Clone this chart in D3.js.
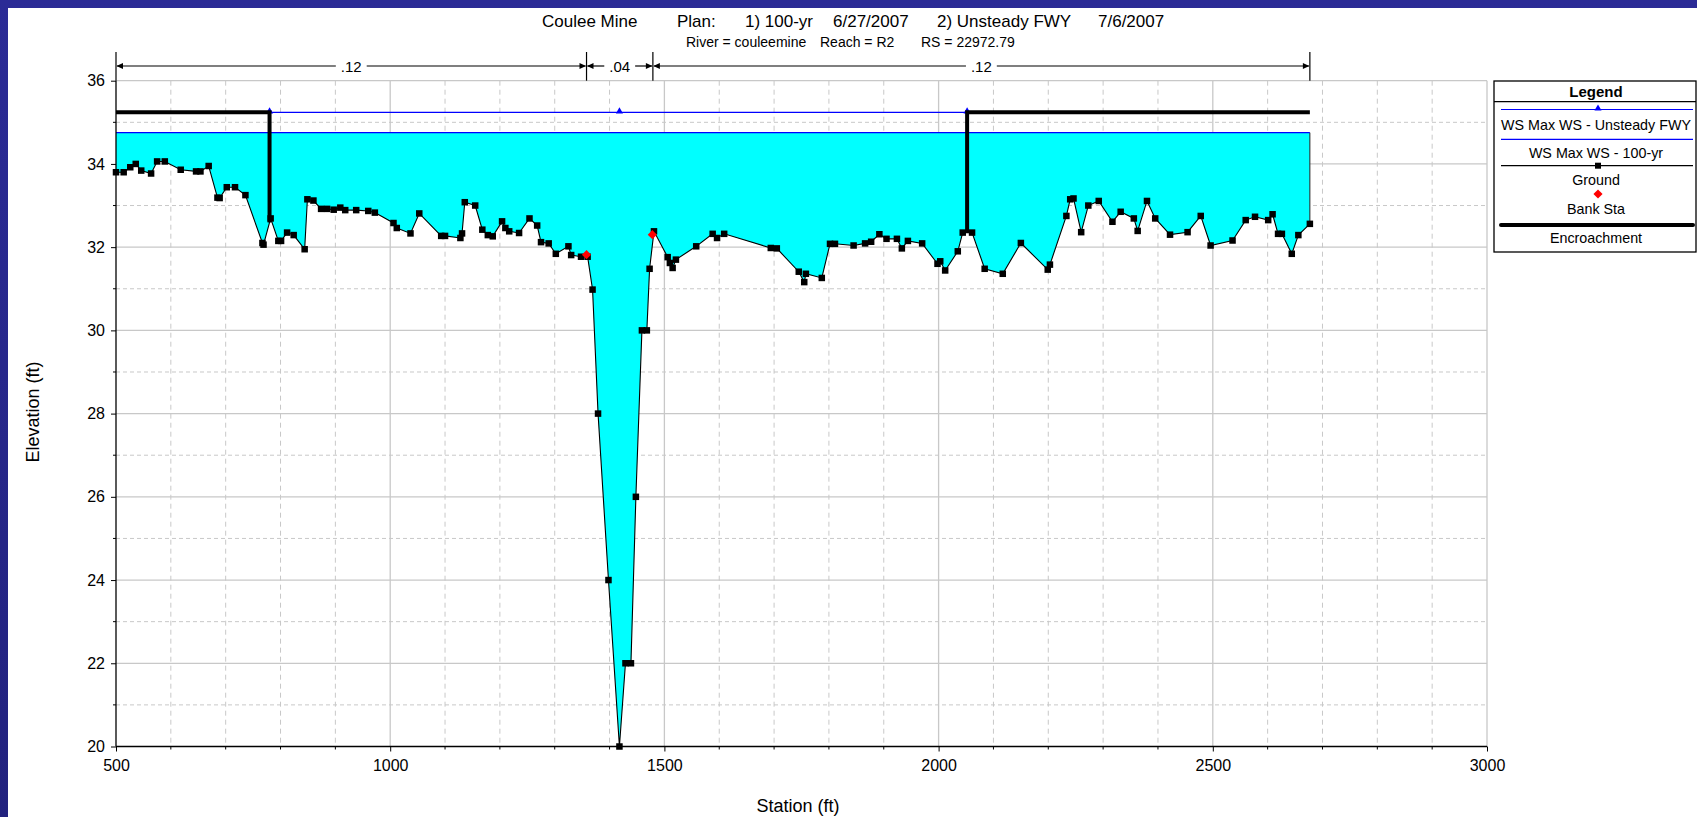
<!DOCTYPE html>
<html>
<head>
<meta charset="utf-8">
<script src="https://cdn.jsdelivr.net/npm/d3@7"></script>
<style>
html,body{margin:0;padding:0;background:#fff;}
svg{display:block;}
text{font-family:"Liberation Sans",Arial,sans-serif;}
</style>
</head>
<body>
<svg id="chart" width="1697" height="817"></svg>
<script>
// ---------- DATA ----------
const groundSta = [500,514,526,536,546,564,575,589,618,646,654,669,685,689,702,717,736,767,769,782,796,801,812,824,844,849,860,874,885,897,909,918,938,960,972,1006,1012,1037,1053,1093,1100,1128,1131,1136,1155,1168,1178,1187,1204,1210,1217,1235,1254,1268,1275,1289,1302,1325,1330,1348,1360,1369,1379,1398,1418,1429,1439,1448,1459,1468,1473,1481,1506,1510,1515,1521,1558,1588,1596,1609,1694,1705,1745,1755,1758,1787,1802,1811,1845,1866,1877,1892,1905,1924,1933,1944,1970,1998,2003,2012,2035,2044,2061,2084,2117,2150,2199,2203,2233,2240,2246,2260,2273,2292,2317,2332,2356,2363,2380,2395,2422,2454,2478,2496,2536,2560,2577,2601,2609,2619,2626,2644,2656,2677];
const groundElev = [33.80,33.80,33.92,34.00,33.84,33.77,34.06,34.06,33.86,33.82,33.82,33.95,33.19,33.18,33.44,33.44,33.25,32.10,32.06,32.69,32.15,32.15,32.35,32.29,31.95,33.15,33.12,32.92,32.92,32.90,32.95,32.89,32.89,32.87,32.83,32.58,32.46,32.33,32.81,32.27,32.27,32.22,32.33,33.08,33.00,32.42,32.29,32.26,32.62,32.46,32.38,32.34,32.69,32.52,32.12,32.09,31.84,32.02,31.81,31.77,31.77,30.98,28.00,24.00,20.00,22.00,22.00,26.00,30.00,30.00,31.48,32.38,31.76,31.62,31.50,31.70,32.02,32.32,32.22,32.32,31.98,31.97,31.41,31.16,31.36,31.26,32.08,32.08,32.04,32.09,32.13,32.31,32.20,32.20,31.97,32.15,32.09,31.60,31.66,31.44,31.90,32.35,32.35,31.48,31.36,32.10,31.46,31.58,32.75,33.15,33.17,32.36,33.00,33.11,32.61,32.85,32.69,32.39,33.11,32.69,32.30,32.36,32.75,32.04,32.16,32.65,32.73,32.65,32.79,32.32,32.32,31.84,32.29,32.56];

const ws100yrElev = 34.75;                 // WS Max WS - 100-yr
const wsUnsteadyElev = 35.24;              // WS Max WS - Unsteady FWY
const wsUnsteadyMarkSta = [780, 1418, 2052];
const encroachSta = [780, 2052];           // left / right encroachment stations
const encroachElev = 35.24;
const bankSta = [1358, 1478];
const bankElev = [31.82, 32.30];
const nBreakSta = [500, 1358, 1479, 2677];
const nValues = [".12", ".04", ".12"];

const xTicks = [500, 1000, 1500, 2000, 2500, 3000];
const yTicks = [20, 22, 24, 26, 28, 30, 32, 34, 36];

const titleParts = ["Coulee Mine", "Plan:", "1) 100-yr", "6/27/2007", "2) Unsteady FWY", "7/6/2007"];
const subtitleParts = ["River = couleemine", "Reach = R2", "RS = 22972.79"];
const legendItems = ["WS Max WS - Unsteady FWY", "WS Max WS - 100-yr", "Ground", "Bank Sta", "Encroachment"];

// ---------- LAYOUT ----------
const svg = d3.select("#chart");
const W = 1697, H = 817;
const x = d3.scaleLinear().domain([500, 3000]).range([116, 1487]);
const y = d3.scaleLinear().domain([20, 36]).range([746.5, 80.7]);
const ground = groundSta.map((s, i) => ({sta: s, elev: groundElev[i]}));
const groundAt = s => {
  for (let i = 1; i < ground.length; i++) {
    if (s <= ground[i].sta) {
      const a = ground[i-1], b = ground[i];
      return a.elev + (b.elev - a.elev) * (s - a.sta) / (b.sta - a.sta);
    }
  }
  return ground[ground.length-1].elev;
};

// background (slide frame)
const defs = svg.append("defs");
const grad = defs.append("linearGradient").attr("id","bg").attr("x1",0).attr("y1",0).attr("x2",0).attr("y2",1);
grad.append("stop").attr("offset","0%").attr("stop-color","#2b2b96");
grad.append("stop").attr("offset","100%").attr("stop-color","#22227e");
svg.append("rect").attr("width",W).attr("height",H).attr("fill","url(#bg)");
svg.append("rect").attr("x",8).attr("y",8).attr("width",W-8).attr("height",H-8).attr("fill","#fff");

const gridColor = "#c8c8c8";
const [x0, x1] = x.range();
const [yb, yt] = y.range();

// minor grid
const xMinor = d3.range(600, 3000, 100).filter(v => v % 500 !== 0);
svg.append("g").selectAll("line").data(xMinor).join("line")
  .attr("x1", d => x(d)).attr("x2", d => x(d)).attr("y1", yt).attr("y2", yb)
  .attr("stroke", gridColor).attr("stroke-width", 1).attr("stroke-dasharray", "5,4");
const yMinor = d3.range(21, 36, 2);
svg.append("g").selectAll("line").data(yMinor).join("line")
  .attr("x1", x0).attr("x2", x1).attr("y1", d => y(d)).attr("y2", d => y(d))
  .attr("stroke", gridColor).attr("stroke-width", 1).attr("stroke-dasharray", "4,3");
// major grid
svg.append("g").selectAll("line").data(xTicks.slice(1)).join("line")
  .attr("x1", d => x(d)).attr("x2", d => x(d)).attr("y1", yt).attr("y2", yb)
  .attr("stroke", gridColor).attr("stroke-width", 1.3);
svg.append("g").selectAll("line").data(yTicks.slice(1)).join("line")
  .attr("x1", x0).attr("x2", x1).attr("y1", d => y(d)).attr("y2", d => y(d))
  .attr("stroke", gridColor).attr("stroke-width", 1.3);

// water fill (100-yr)
const area = d3.area().x(d => x(d.sta)).y0(y(ws100yrElev)).y1(d => y(d.elev));
svg.append("path").datum(ground).attr("d", area).attr("fill", "#00ffff");
// right edge of fill
const last = ground[ground.length-1];
svg.append("line").attr("x1", x(last.sta)).attr("x2", x(last.sta))
  .attr("y1", y(ws100yrElev)).attr("y2", y(last.elev)).attr("stroke", "#222").attr("stroke-width", 1);
// WS 100-yr line
svg.append("line").attr("x1", x(ground[0].sta)).attr("x2", x(last.sta))
  .attr("y1", y(ws100yrElev)).attr("y2", y(ws100yrElev)).attr("stroke", "#0000ff").attr("stroke-width", 1.2);
// WS Unsteady FWY line
svg.append("line").attr("x1", x(encroachSta[0])).attr("x2", x(encroachSta[1]))
  .attr("y1", y(wsUnsteadyElev)).attr("y2", y(wsUnsteadyElev)).attr("stroke", "#0000ff").attr("stroke-width", 1.2);
const tri = d3.symbol().type(d3.symbolTriangle).size(22);
svg.append("g").selectAll("path").data(wsUnsteadyMarkSta).join("path")
  .attr("d", tri).attr("transform", d => `translate(${x(d)},${y(wsUnsteadyElev)-1})`).attr("fill", "#0000ff");

// ground line
const line = d3.line().x(d => x(d.sta)).y(d => y(d.elev));
svg.append("path").datum(ground).attr("d", line).attr("fill", "none").attr("stroke", "#000").attr("stroke-width", 1.1);
svg.append("g").selectAll("rect").data(ground).join("rect")
  .attr("x", d => x(d.sta) - 3.25).attr("y", d => y(d.elev) - 3.25).attr("width", 6.5).attr("height", 6.5).attr("fill", "#000");

// bank stations (square rotated 45 deg)
const diamond = d3.symbol().type(d3.symbolSquare).size(42);
svg.append("g").selectAll("path").data(bankSta).join("path")
  .attr("d", diamond).attr("transform", (d, i) => `translate(${x(d)},${y(bankElev[i])}) rotate(45)`).attr("fill", "#ff0000");

// encroachments
const encL = [[ground[0].sta, encroachElev], [encroachSta[0], encroachElev], [encroachSta[0], groundAt(encroachSta[0])]];
const encR = [[encroachSta[1], groundAt(encroachSta[1])], [encroachSta[1], encroachElev], [last.sta, encroachElev]];
const eline = d3.line().x(d => x(d[0])).y(d => y(d[1]));
[encL, encR].forEach(p => svg.append("path").attr("d", eline(p)).attr("fill", "none")
  .attr("stroke", "#000").attr("stroke-width", 4).attr("stroke-linejoin", "miter"));

// axes
const yAxis = d3.axisLeft(y).tickValues(yTicks).tickSize(5).tickPadding(6).tickFormat(d3.format("d"));
const gy = svg.append("g").attr("transform", `translate(${x0},0)`).call(yAxis);
gy.select(".domain").attr("stroke", "#000").attr("stroke-width", 1.3).attr("d", `M0,${yt}V${yb}`);
gy.selectAll("text").attr("font-size", 16).attr("font-family", "Liberation Sans, Arial, sans-serif").attr("fill", "#000");
svg.append("g").selectAll("line").data(yMinor).join("line")
  .attr("x1", x0 - 3).attr("x2", x0).attr("y1", d => y(d)).attr("y2", d => y(d)).attr("stroke", "#000");

const xAxis = d3.axisBottom(x).tickValues(xTicks).tickSize(5).tickPadding(8).tickFormat(d3.format("d"));
const gx = svg.append("g").attr("transform", `translate(0,${yb})`).call(xAxis);
gx.select(".domain").attr("stroke", "#000").attr("stroke-width", 1.3).attr("d", `M${x0},0H${x1}`);
gx.selectAll("text").attr("font-size", 16).attr("font-family", "Liberation Sans, Arial, sans-serif").attr("fill", "#000");
svg.append("g").selectAll("line").data(xMinor).join("line")
  .attr("x1", d => x(d)).attr("x2", d => x(d)).attr("y1", yb).attr("y2", yb + 3).attr("stroke", "#000");

// axis titles
svg.append("text").attr("x", 798).attr("y", 806).attr("text-anchor", "middle").attr("dominant-baseline", "central")
  .attr("font-size", 18).text("Station (ft)");
svg.append("text").attr("transform", "translate(33,412) rotate(-90)").attr("text-anchor", "middle")
  .attr("dominant-baseline", "central").attr("font-size", 18).text("Elevation (ft)");

// titles
const titleX = [542, 677, 745, 833, 937, 1098];
svg.append("g").selectAll("text").data(titleParts).join("text")
  .attr("x", (d, i) => titleX[i]).attr("y", 21).attr("dominant-baseline", "central")
  .attr("font-size", 17).text(d => d);
const subX = [686, 820, 921];
svg.append("g").selectAll("text").data(subtitleParts).join("text")
  .attr("x", (d, i) => subX[i]).attr("y", 42).attr("dominant-baseline", "central")
  .attr("font-size", 14).text(d => d);

// Manning's n dimension lines
const dimY = 66;
const dim = svg.append("g");
nBreakSta.forEach(s => dim.append("line").attr("x1", x(s)).attr("x2", x(s)).attr("y1", 52).attr("y2", yt).attr("stroke", "#000").attr("stroke-width", 1.2));
nValues.forEach((v, i) => {
  const a = x(nBreakSta[i]), b = x(nBreakSta[i+1]), m = (a + b) / 2;
  const t = dim.append("text").attr("x", m).attr("y", dimY).attr("text-anchor", "middle")
    .attr("dominant-baseline", "central").attr("font-size", 15).text(v);
  const half = t.node().getComputedTextLength() / 2 + 5;
  dim.append("line").attr("x1", a + 1).attr("x2", m - half).attr("y1", dimY).attr("y2", dimY).attr("stroke", "#000").attr("stroke-width", 1.2);
  dim.append("line").attr("x1", m + half).attr("x2", b - 1).attr("y1", dimY).attr("y2", dimY).attr("stroke", "#000").attr("stroke-width", 1.2);
  dim.append("path").attr("d", `M${a+0.5},${dimY}L${a+7},${dimY-3}L${a+7},${dimY+3}Z`).attr("fill", "#000");
  dim.append("path").attr("d", `M${b-0.5},${dimY}L${b-7},${dimY-3}L${b-7},${dimY+3}Z`).attr("fill", "#000");
});

// legend
const lg = svg.append("g");
const L = {x: 1494, y: 81, w: 202, h: 171};
lg.append("rect").attr("x", L.x).attr("y", L.y).attr("width", L.w).attr("height", L.h)
  .attr("fill", "#fff").attr("stroke", "#000").attr("stroke-width", 1.3);
lg.append("text").attr("x", 1596).attr("y", 91).attr("text-anchor", "middle").attr("dominant-baseline", "central")
  .attr("font-size", 15).attr("font-weight", "bold").text("Legend");
lg.append("line").attr("x1", L.x).attr("x2", L.x + L.w).attr("y1", 101.7).attr("y2", 101.7).attr("stroke", "#000").attr("stroke-width", 1.3);
const lx1 = 1501, lx2 = 1693, lcx = 1598;
const textY = [125, 152.7, 180, 209.3, 237.7];
lg.selectAll("text.item").data(legendItems).join("text").attr("class", "item")
  .attr("x", 1596).attr("y", (d, i) => textY[i]).attr("text-anchor", "middle").attr("dominant-baseline", "central")
  .attr("font-size", 14.3).text(d => d);
lg.append("line").attr("x1", lx1).attr("x2", lx2).attr("y1", 109.5).attr("y2", 109.5).attr("stroke", "#0000ff").attr("stroke-width", 1.2);
lg.append("path").attr("d", tri).attr("transform", `translate(${lcx},108.5)`).attr("fill", "#0000ff");
lg.append("line").attr("x1", lx1).attr("x2", lx2).attr("y1", 139.3).attr("y2", 139.3).attr("stroke", "#0000ff").attr("stroke-width", 1.2);
lg.append("line").attr("x1", lx1).attr("x2", lx2).attr("y1", 165.7).attr("y2", 165.7).attr("stroke", "#000").attr("stroke-width", 1.2);
lg.append("rect").attr("x", lcx - 3).attr("y", 162.7).attr("width", 6).attr("height", 6).attr("fill", "#000");
lg.append("path").attr("d", diamond).attr("transform", `translate(${lcx},194) rotate(45)`).attr("fill", "#ff0000");
lg.append("line").attr("x1", lx1).attr("x2", lx2).attr("y1", 225).attr("y2", 225).attr("stroke", "#000").attr("stroke-width", 4).attr("stroke-linecap", "round");
</script>
</body>
</html>
